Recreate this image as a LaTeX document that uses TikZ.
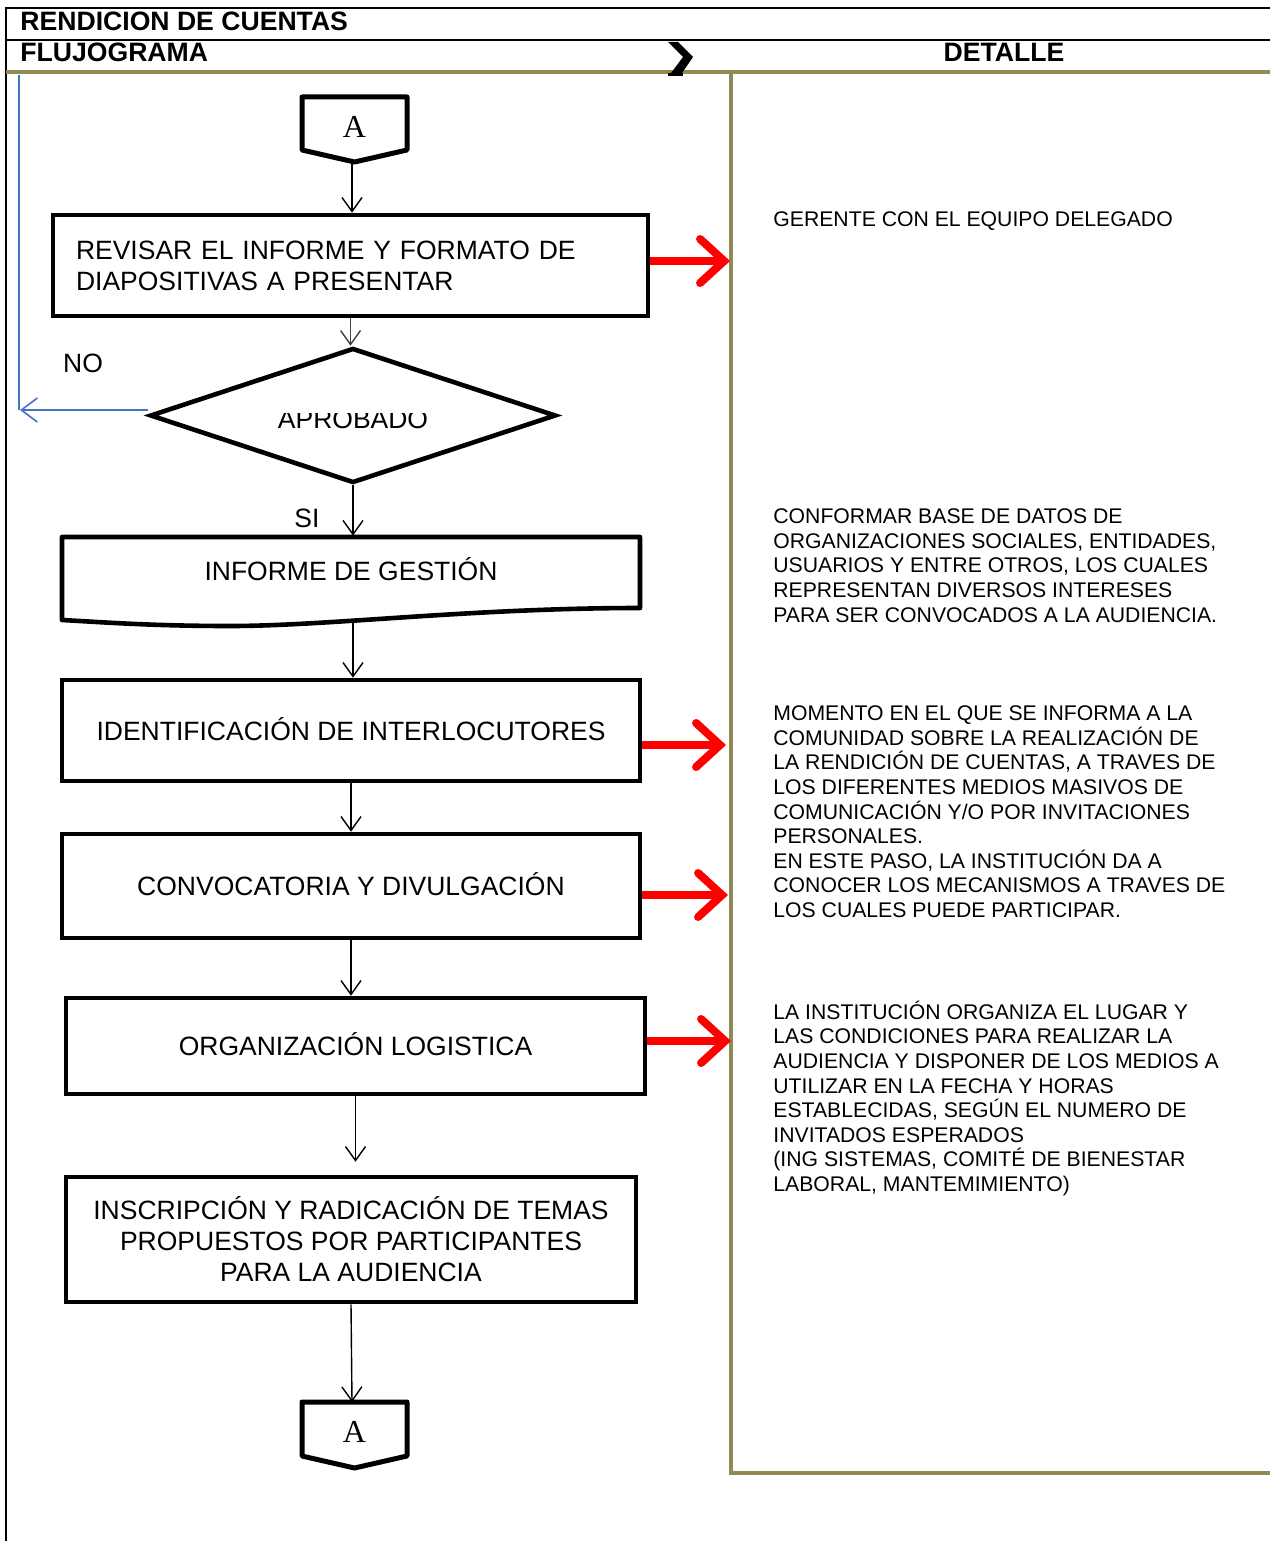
\documentclass[tikz,border=0pt]{standalone}
\usepackage{fontspec}
\setmainfont{Liberation Sans}
\newfontfamily\serifA{Liberation Serif}
\usetikzlibrary{arrows.meta,shapes.geometric}
\definecolor{oliveline}{RGB}{147,137,83}
\definecolor{noblue}{RGB}{68,114,196}
\begin{document}
\begin{tikzpicture}[x=0.5pt,y=-0.5pt,
  boxfont/.style={font=\fontsize{13.25}{15.5}\selectfont},
  box/.style={draw, line width=2.3pt, inner sep=0pt, align=center, boxfont},
  oneline/.style={text height=9.5pt, text depth=0pt},
  conn/.style={line width=0.7pt, -{Straight Barb[length=7pt,width=10pt]}},
  redarr/.style={red, line width=4pt, -{Straight Barb[length=12pt,width=22pt,line cap=round]}},
  detail/.style={anchor=north west, inner sep=0pt, align=left, font=\fontsize{10.6}{12.3}\selectfont},
  hdr/.style={anchor=base west, inner sep=0pt, font=\bfseries\fontsize{13.3}{15}\selectfont},
  conA/.style={line width=2.5pt, line join=round},
  Atext/.style={inner sep=0pt, text height=10.6pt, text depth=0pt, font=\serifA\fontsize{16}{18}\selectfont}
]
\useasboundingbox (0,0) rectangle (1270,1541);
\fill[white] (0,0) rectangle (1270,1541);

% frame
\draw[line width=1pt] (6,1541) -- (6,8) -- (1270,8);
\draw[line width=1pt] (6,40) -- (1270,40);
\draw[oliveline, line width=2pt] (6,72) -- (1270,72);
\draw[oliveline, line width=2pt] (731,72) -- (731,1473) -- (1270,1473);

% header
\node[hdr] (h1) at (20,31) {RENDICION DE CUENTAS};
\node[hdr] (h2) at (20,62) {FLUJOGRAMA};
\node[hdr, anchor=base] (h3) at (1004,62) {DETALLE};
\fill (668,42) -- (678,42) -- (693,57) -- (682,73) -- (671,73) -- (683,57) -- cycle;
\fill (668,73) rectangle (683,76);

% blue NO return line
\draw[noblue, line width=0.8pt] (19,75) -- (19,410);

% top connector A
\node[Atext] (A1) at (354.5,127) {A};
\draw[conA] (302,97) -- (407,97) -- (407,150) -- (354.5,162) -- (302,150) -- cycle;
\coordinate (A1tip) at (352,162);

% box 1
\node[box, align=left, text width=274.5pt, inner xsep=11.5pt, minimum height=50.5pt] (b1) at (350.5,265.5)
  {REVISAR EL INFORME Y FORMATO DE\\DIAPOSITIVAS A PRESENTAR};

% diamond
\node[diamond, draw, line width=2.3pt, minimum width=203pt, minimum height=67.5pt, inner sep=0pt] (dia) at (353,415.5) {};
\begin{scope}
  \clip (240,413.5) rectangle (470,440);
  \node[inner sep=0pt, boxfont, oneline] (diatext) at (353,418.5) {APROBADO};
\end{scope}

% document shape
\node[inner sep=0pt, minimum width=289pt, minimum height=35pt, boxfont, oneline] (doc) at (351,571) {INFORME DE GESTIÓN};
\draw[line width=2.3pt, line join=round] (62,537) -- (640,537) -- (640,608)
  .. controls (470,608) and (330,626) .. (230,626)
  .. controls (150,626) and (100,622) .. (62,620) -- cycle;
\coordinate (docbot) at (353,623);

% boxes
\node[box, oneline, minimum width=289pt, minimum height=50.5pt] (b3) at (351,730.5) {IDENTIFICACIÓN DE INTERLOCUTORES};
\node[box, oneline, minimum width=289pt, minimum height=52pt] (b4) at (351,886) {CONVOCATORIA Y DIVULGACIÓN};
\node[box, oneline, minimum width=289.5pt, minimum height=48pt] (b5) at (355.5,1046) {ORGANIZACIÓN LOGISTICA};
\node[box, minimum width=285pt, minimum height=62.5pt] (b6) at (351,1239.5)
  {INSCRIPCIÓN Y RADICACIÓN DE TEMAS\\PROPUESTOS POR PARTICIPANTES\\PARA LA AUDIENCIA};

% bottom connector A
\node[Atext] (A2) at (354.5,1432) {A};
\draw[conA] (302,1402) -- (407,1402) -- (407,1456) -- (354.5,1468) -- (302,1456) -- cycle;
\coordinate (A2top) at (352,1402);

% connectors
\draw[conn] (A1tip) -- (A1tip |- b1.north);
\draw[conn, black!75] (b1.south) -- (b1.south |- dia.north);
\draw[conn] (dia.south) -- (dia.south |- doc.north);
\draw[conn] (docbot) -- (docbot |- b3.north);
\draw[conn] (b3.south) -- (b3.south |- b4.north);
\draw[conn] (b4.south) -- (b4.south |- b5.north);
\draw[conn, shorten >=6.5pt] (b5.south) -- (b5.south |- b6.north);
\draw[conn] (b6.south) -- (A2top);

\coordinate (noend) at (20,410);
\draw[noblue, line width=0.8pt, -{Straight Barb[length=8pt,width=12pt]}] (dia.west |- noend) -- (noend);

\node[inner sep=0pt, boxfont] (no) at (83,363) {NO};
\node[inner sep=0pt, boxfont] (si) at (307,518) {SI};

% red arrows
\coordinate (r1) at (730,261);
\coordinate (r3) at (726,745);
\coordinate (r4) at (728,895);
\coordinate (r5) at (731,1041);
\draw[redarr] (b1.east |- r1) -- (r1);
\draw[redarr] (b3.east |- r3) -- (r3);
\draw[redarr] (b4.east |- r4) -- (r4);
\draw[redarr] (b5.east |- r5) -- (r5);

% detail texts
\node[detail] (d1) at (773,211.5) {GERENTE CON EL EQUIPO DELEGADO};
\node[detail] (d2) at (773,508.5) {CONFORMAR BASE DE DATOS DE\\ORGANIZACIONES SOCIALES, ENTIDADES,\\USUARIOS Y ENTRE OTROS, LOS CUALES\\REPRESENTAN DIVERSOS INTERESES\\PARA SER CONVOCADOS A LA AUDIENCIA.};
\node[detail] (d3) at (773,705.5) {MOMENTO EN EL QUE SE INFORMA A LA\\COMUNIDAD SOBRE LA REALIZACIÓN DE\\LA RENDICIÓN DE CUENTAS, A TRAVES DE\\LOS DIFERENTES MEDIOS MASIVOS DE\\COMUNICACIÓN Y/O POR INVITACIONES\\PERSONALES.\\EN ESTE PASO, LA INSTITUCIÓN DA A\\CONOCER LOS MECANISMOS A TRAVES DE\\LOS CUALES PUEDE PARTICIPAR.};
\node[detail] (d4) at (773,1000.5) {LA INSTITUCIÓN ORGANIZA EL LUGAR Y\\LAS CONDICIONES PARA REALIZAR LA\\AUDIENCIA Y DISPONER DE LOS MEDIOS A\\UTILIZAR EN LA FECHA Y HORAS\\ESTABLECIDAS, SEGÚN EL NUMERO DE\\INVITADOS ESPERADOS\\(ING SISTEMAS, COMITÉ DE BIENESTAR\\LABORAL, MANTEMIMIENTO)};
\end{tikzpicture}
\end{document}
